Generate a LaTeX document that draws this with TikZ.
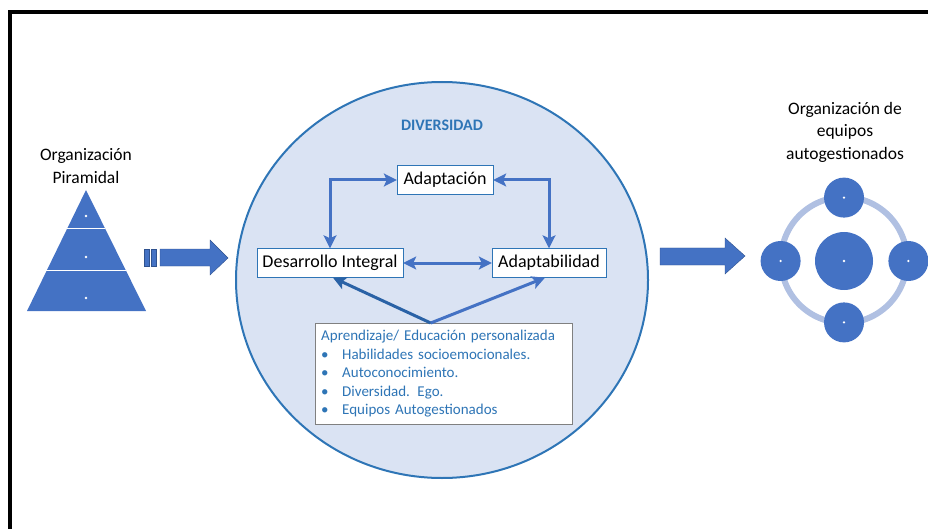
\documentclass[tikz,border=0pt]{standalone}
\usepackage{fontspec}
\setmainfont{Carlito}
\usetikzlibrary{arrows.meta, positioning}
\definecolor{officeblue}{HTML}{4472C4}
\definecolor{edgeblue}{HTML}{2F528F}
\definecolor{textblue}{HTML}{2E75B6}
\definecolor{lowblue}{HTML}{2A62A6}
\definecolor{circlefill}{HTML}{DAE3F3}
\definecolor{ringblue}{HTML}{B0C0E2}

\begin{document}
\begin{tikzpicture}[x=1pt,y=-1pt,>={Stealth[length=13pt,width=13pt,inset=3pt]},
    concept box/.style={draw=textblue,fill=white,font=\fontsize{18}{20}\selectfont,inner sep=3pt,minimum height=29pt},
    link/.style={<->,officeblue,line width=3pt},
    member/.style={circle,fill=officeblue,inner sep=0pt,minimum size=40pt},
    white dot/.style={circle,fill=white,inner sep=0pt,minimum size=2.6pt},
    caption/.style={align=center,font=\fontsize{17.5}{22.5}\selectfont}]

    \useasboundingbox (0,0) rectangle (928,529);
    \draw[line width=4pt] (10,529) -- (10,12) -- (928,12);

    % left side: pyramid
    \node[caption] (pyrtitle) at (86,166) {Organización\\Piramidal};
    \fill[officeblue] (86,190) -- (146,311) -- (27,311) -- cycle;
    \draw[white,line width=1pt] (66.6,229) -- (105.4,229);
    \draw[white,line width=1pt] (46.3,270) -- (125.7,270);
    \foreach \y in {216,257,298}
        \node[white dot] at (86,\y) {};

    % block arrows
    \filldraw[officeblue,draw=edgeblue,line width=0.4pt] (144,249) rectangle (149,266) (151,249) rectangle (156,266);
    \filldraw[officeblue,draw=edgeblue,line width=0.4pt] (160,249) -- (210,249) -- (210,240) -- (228,258)
        -- (210,275) -- (210,266) -- (160,266) -- cycle;
    \filldraw[officeblue,draw=edgeblue,line width=0.4pt] (660,248) -- (725,248) -- (725,238) -- (745,256)
        -- (725,274) -- (725,265) -- (660,265) -- cycle;

    % middle: diversity circle
    \filldraw[fill=circlefill,draw=textblue,line width=2pt] (442,280) circle[x radius=206pt,y radius=198pt];
    \node[font=\fontsize{16}{18}\selectfont\bfseries,text=textblue] (div) at (442,125) {DIVERSIDAD};

    \node[concept box,minimum width=96pt]  (adapt)  at (445,180) {Adaptación};
    \node[concept box,minimum width=146pt] (devel)  at (330,263) {Desarrollo Integral};
    \node[concept box,minimum width=114pt] (adaptb) at (549,263) {Adaptabilidad};

    \node[draw=gray,fill=white,anchor=north west,text width=245pt,inner xsep=6pt,minimum height=101pt,
          align=left,text=textblue,font=\fontsize{15}{18.5}\selectfont] (learn) at (315,323)
        {Aprendizaje/ Educación personalizada\\
         \makebox[21pt][l]{\textbullet}Habilidades socioemocionales.\\
         \makebox[21pt][l]{\textbullet}Autoconocimiento.\\
         \makebox[21pt][l]{\textbullet}Diversidad. Ego.\\
         \makebox[21pt][l]{\textbullet}Equipos Autogestionados};
    \coordinate (apex) at ([xshift=-13pt]learn.north);

    \draw[link] (devel.north) |- (adapt.west);
    \draw[link] (adapt.east) -| (adaptb.north);
    \draw[link] (devel.east) -- (adaptb.west);
    \draw[->,lowblue,line width=3pt] (apex) -- ([xshift=3pt]devel.south);
    \draw[->,officeblue,line width=3pt] (apex) -- ([xshift=-4pt]adaptb.south);

    % right side: self-managed teams
    \node[caption] (teamtitle) at (845,132) {Organización de\\equipos\\autogestionados};
    \draw[ringblue,line width=6pt] (844,260) circle[radius=63pt];
    \node[member,minimum size=58pt] (hub) at (844,261) {};
    \node[member,above=14pt of hub] (top)    {};
    \node[member,below=12pt of hub] (bottom) {};
    \node[member,left=14pt of hub]  (west)   {};
    \node[member,right=15pt of hub] (east)   {};
    \foreach \m in {hub,top,bottom,west,east}
        \node[white dot] at (\m) {};
\end{tikzpicture}
\end{document}
